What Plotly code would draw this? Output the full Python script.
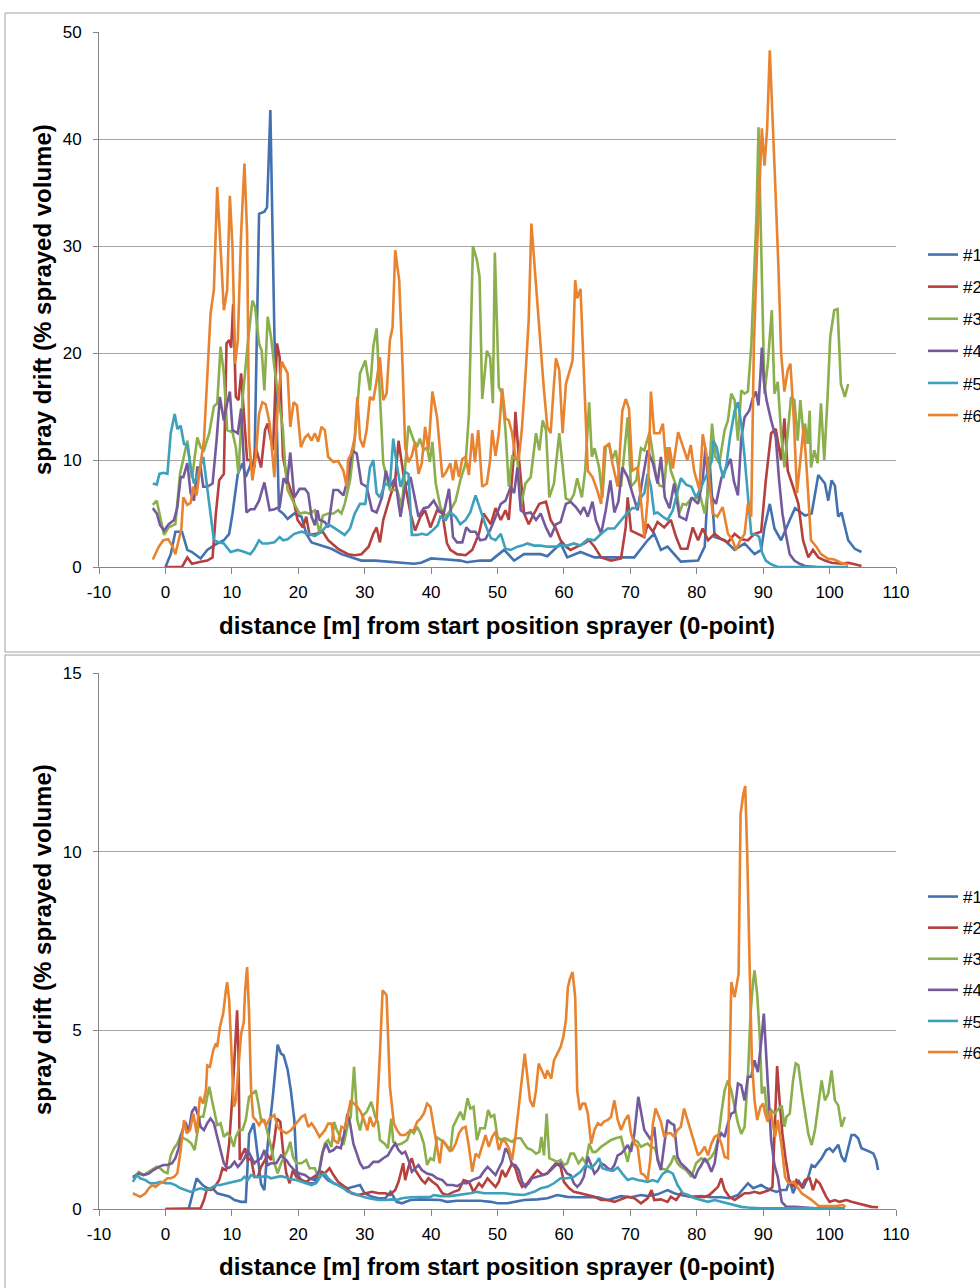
import plotly.graph_objects as go

names = ["#1", "#2", "#3", "#4", "#5", "#6"]
colors = ["#4472B0", "#B5403D", "#8BAF4C", "#745A9C", "#3DA1BE", "#E8832F"]

x_ticks = [-10, 0, 10, 20, 30, 40, 50, 60, 70, 80, 90, 100, 110]
x_title = "distance [m] from start position sprayer (0-point)"
y_title = "spray drift (% sprayed volume)"

# ---------------- top panel: (distance, drift) ----------------
top1 = [(0,0),(0.8,1.2),(1.5,3.3),(2.5,3.3),(3.3,1.6),(4,1.4),(5.3,0.8),(6.3,1.6),(7.8,2.2),(8.8,2.5),(9.6,3.1),(10.1,5.0),(10.9,8.7),(11.6,9.7),(12.1,8.4),(12.9,9.7),(13.4,9.3),(14.1,33.0),(14.9,33.2),(15.3,33.6),(15.8,42.7),(16.4,22),(17.1,5.3),(17.7,5.0),(18.4,4.5),(19.4,5.0),(20.5,4.7),(21.2,3.1),(22,2.3),(23.5,2.0),(25,1.7),(26.5,1.2),(28,0.9),(29.5,0.6),(31.6,0.6),(33.6,0.5),(35.6,0.4),(37.4,0.3),(38.5,0.4),(40,0.8),(42.4,0.7),(44.4,0.6),(45.4,0.45),(47.4,0.6),(49,0.6),(51,1.6),(52.5,0.6),(54,1.2),(56.5,1.2),(57.5,1.0),(59.5,2.2),(60.5,0.9),(62.5,1.4),(64.6,0.9),(67.6,0.9),(70.6,0.9),(72.6,2.5),(73.6,3.1),(74.6,1.6),(75.6,1.9),(77.6,0.5),(80.2,0.6),(81.2,1.9),(81.9,10.3),(82.7,2.8),(84.2,2.5),(85.7,1.6),(87.2,2.2),(88.7,1.2),(89.7,1.6),(90.2,3.7),(91,5.9),(91.7,3.6),(92.7,2.5),(94,4.4),(94.8,5.5),(96.3,4.8),(97.3,5.0),(98.3,8.6),(99.3,7.8),(99.8,6.2),(100.3,8.1),(100.8,7.6),(101.3,4.7),(101.8,5.1),(102.8,2.5),(103.8,1.7),(104.8,1.4)]
top2 = [(0,0),(2.5,0),(3.3,0.9),(4,0.3),(5.3,0.5),(6.3,0.6),(7.1,0.9),(7.6,5),(8.1,8.1),(8.8,8.7),(9.2,20.9),(9.6,21.2),(9.9,20.5),(10.2,24.6),(10.6,15.9),(11,15.6),(11.4,18.1),(11.8,14.3),(12.3,10.0),(12.8,10.0),(13.1,9.0),(13.6,11.2),(14.4,9.3),(15,12.8),(15.4,13.4),(16.2,10.9),(16.8,20.9),(17.2,19.6),(17.7,10.3),(18.4,8.1),(19.2,6.5),(19.9,4.4),(20.7,3.7),(21.2,4.7),(21.7,3.0),(22.7,3.1),(23.7,3.3),(24.5,2.5),(26,1.7),(27.5,1.2),(28.5,1.1),(29.5,1.2),(30.6,1.9),(31.3,3.1),(31.8,3.7),(32.3,2.3),(32.8,4.4),(33.8,6.5),(34.6,8.1),(35.1,11.8),(35.9,8.4),(36.9,5.0),(37.6,3.4),(38.4,4.7),(39.1,5.3),(39.9,3.7),(40.9,5.3),(41.7,5.0),(42.4,2.2),(42.9,1.6),(43.9,1.2),(45.2,1.1),(46.2,1.6),(47.2,3.1),(47.9,5.0),(49,4.0),(49.7,5.5),(50.5,4.4),(51.2,5.3),(51.7,4.4),(52.4,10.0),(52.7,14.5),(53.2,10.3),(54,5.0),(54.7,4.0),(55.5,5.0),(56.3,5.9),(57.3,6.1),(58,4.4),(58.8,3.6),(59.5,2.5),(60.3,1.9),(61,1.6),(62,1.9),(63.1,2.2),(63.8,2.5),(64.6,1.9),(65.6,0.9),(67.1,0.6),(68.6,0.8),(69.3,3.7),(69.6,6.5),(70.1,3.4),(71.1,3.1),(72.1,2.8),(72.6,4.0),(73.4,3.3),(74.1,4.2),(75.1,3.7),(76.1,4.4),(76.9,2.8),(77.6,1.7),(78.6,1.7),(79.4,3.7),(80.2,2.5),(80.9,3.6),(81.7,2.5),(82.7,3.1),(83.7,2.6),(84.7,2.3),(85.7,3.1),(86.7,2.6),(87.7,2.5),(88.7,3.1),(89.7,3.3),(90.4,8.1),(91.2,12.5),(91.9,12.9),(92.7,10.0),(93.2,13.9),(93.7,9.0),(94.5,7.5),(95.3,5.9),(96,2.5),(96.8,0.9),(97.5,1.6),(98.3,0.9),(99.3,0.6),(100.3,0.4),(101.8,0.3),(102.8,0.4),(103.8,0.25),(104.8,0.1)]
top3 = [(-1.9,5.8),(-1.3,6.2),(-0.8,4.7),(-0.2,3.0),(0.5,3.7),(1.5,4.0),(2.2,8.7),(3.3,11.8),(4,8.3),(4.8,12.1),(5.3,11.2),(5.8,10.9),(6.6,12.5),(7.3,15),(7.8,15.3),(8.3,20.6),(8.8,18.1),(9.3,12.8),(10.1,12.6),(10.6,11.2),(11,8.7),(11.6,15.6),(12.4,20.9),(13.1,24.9),(13.5,24.3),(14.1,20.9),(14.5,20.2),(14.9,16.5),(15.4,23.4),(15.9,21.5),(16.4,18.7),(16.9,16.5),(17.7,12.8),(18,9.7),(18.4,7.2),(19.4,5.9),(20.2,5.0),(21,5.1),(21.7,5.0),(22.5,5.3),(23.2,3.1),(23.7,4.8),(24.5,5.0),(25.3,5.0),(26,5.3),(26.5,5.0),(27,5.9),(27.8,8.1),(28.5,11.8),(29.3,18.1),(30.1,19.3),(30.8,16.5),(31.3,20.6),(31.8,22.3),(32.3,15.9),(32.8,9.7),(33.8,7.2),(34.9,7.2),(35.6,5.6),(36.6,13.2),(37.4,11.8),(37.9,11.2),(38.3,12.0),(38.9,10.9),(39.4,11.2),(39.8,9.8),(40.2,11.7),(40.7,7.8),(41.4,5.6),(42.2,4.7),(42.9,5.3),(43.7,6.2),(44.4,8.1),(45.2,9.7),(45.7,14.3),(46.3,30.0),(46.9,28.7),(47.3,27.1),(47.7,15.7),(48.4,20.2),(48.9,19.6),(49.3,15.3),(49.6,29.4),(50.2,16.8),(50.7,16.2),(51.2,12.8),(51.7,7.5),(52.2,10.3),(53,10.0),(53.5,5.6),(54.2,7.8),(55,8.4),(55.8,12.5),(56.3,10.9),(56.8,13.7),(57.3,12.8),(57.8,6.5),(58.5,7.8),(59.3,12.5),(59.8,9.3),(60.3,6.4),(61,6.2),(61.5,6.8),(62,8.3),(62.7,6.5),(63.2,9.0),(63.8,15.4),(64.2,10.3),(64.6,11.1),(65.3,9.3),(65.8,6.5),(66.3,11.2),(66.8,11.5),(67.3,10.1),(67.8,10.9),(68.6,7.5),(69.6,14.0),(70.1,7.5),(70.9,8.1),(71.6,11.1),(72.1,10.9),(72.9,12.6),(73.4,10.3),(73.9,8.4),(74.4,7.6),(75.1,7.5),(75.6,11.2),(76.1,9.0),(76.9,7.6),(77.4,5.1),(77.9,5.9),(78.4,5.8),(79.2,6.4),(79.9,6.4),(80.5,6.7),(81.2,5.0),(81.7,7.2),(82.3,13.4),(82.8,10.3),(83.4,9.7),(84.2,12.8),(84.7,13.7),(85.2,16.2),(85.7,15.6),(86.2,11.8),(86.7,16.5),(87.2,16.2),(87.7,16.4),(88.2,20.6),(88.6,27.1),(89,33.0),(89.3,41.1),(89.6,31.8),(89.9,24.0),(90.2,16.2),(90.7,19.0),(91.3,24.0),(91.7,16.2),(92.2,17.3),(92.7,12.5),(93.2,9.3),(93.7,12.5),(94.2,15.9),(94.7,15.6),(95.2,11.8),(95.6,15.6),(96,12.8),(96.3,13.4),(96.7,11.5),(97,14.6),(97.2,9.3),(97.7,10.9),(98.2,9.7),(98.7,15.3),(99.2,10.0),(99.7,15.9),(100.1,21.5),(100.7,24.0),(101.2,24.1),(101.7,17.1),(102.3,15.9),(102.8,17.1)]
top4 = [(-1.9,5.5),(-1.3,5.0),(-0.8,3.9),(-0.2,3.4),(0.5,4.0),(1.3,4.4),(1.8,5.6),(2.3,8.4),(2.7,8.4),(3.3,9.7),(3.8,6.9),(4.3,6.2),(4.8,9.3),(5.3,9.3),(5.7,7.5),(6.3,7.5),(7.1,7.8),(7.7,11.8),(8.2,15.9),(8.8,13.7),(9.3,15.3),(9.7,16.4),(10.1,12.8),(10.9,12.5),(11.4,14.8),(11.8,10.0),(12.2,5.1),(12.8,5.4),(13.4,5.4),(14.1,6.2),(14.9,7.9),(15.7,5.3),(16.4,5.4),(17.2,5.6),(17.8,8.3),(18.3,7.8),(18.8,10.7),(19.4,6.5),(20.2,7.3),(21,7.3),(21.5,6.9),(22,4.7),(22.5,3.9),(22.9,5.3),(23.2,4.4),(24,4.2),(24.5,3.7),(25.3,7.2),(26,7.2),(26.8,6.7),(27.5,8.3),(28.1,10.9),(28.8,10.6),(29.5,7.8),(30.3,7.5),(31.1,5.3),(31.8,5.1),(32.6,6.5),(33.2,9.0),(33.8,7.5),(34.6,8.3),(35.1,5.9),(35.4,4.7),(36.1,7.5),(36.9,8.4),(37.4,6.9),(38.1,4.7),(38.9,5.5),(39.6,5.6),(40.4,6.2),(41.2,5.3),(41.9,5.0),(42.7,7.3),(43.3,2.8),(43.9,2.3),(44.7,2.3),(45.3,3.7),(45.9,3.3),(46.7,3.3),(47.4,2.5),(48.2,2.6),(49,3.6),(49.7,4.7),(50.5,5.9),(51.2,6.2),(52,7.5),(52.5,6.9),(53,9.3),(53.5,5.3),(54.2,5.0),(55,5.1),(55.8,4.4),(56.5,5.0),(57.3,3.7),(58,2.8),(58.8,4.0),(59.5,4.2),(60.3,5.9),(61,6.1),(61.8,5.6),(62.5,5.0),(63,5.6),(63.6,4.7),(64.3,6.1),(64.8,4.4),(65.6,3.1),(66.3,5.3),(67,8.1),(67.6,5.1),(68.2,6.1),(68.8,9.3),(69.6,8.4),(70.3,6.9),(71.1,5.3),(71.8,8.1),(72.6,10.9),(73.4,9.7),(74.1,7.8),(74.6,10.3),(75.2,6.5),(75.9,5.5),(76.6,7.8),(77.4,4.7),(78.4,4.4),(79.2,6.5),(80.2,5.9),(80.9,8.1),(81.3,11.1),(81.7,8.1),(82.3,6.5),(82.9,5.9),(83.7,8.3),(84.4,9.2),(85.1,10.1),(85.6,8.0),(86.2,6.7),(86.7,12.0),(87.2,14.0),(87.9,14.6),(88.4,15.7),(88.9,16.4),(89.3,15.1),(89.6,18.1),(89.8,20.5),(90.1,17.4),(90.5,15.6),(91.2,13.7),(91.9,12.1),(92.4,8.1),(92.9,5.0),(93.4,3.1),(94,1.2),(94.7,0.6),(95.5,0.3),(96.3,0.1),(98,0)]
top5 = [(-1.9,7.8),(-1.3,7.7),(-0.9,8.7),(-0.3,8.8),(0.3,8.7),(0.8,12.5),(1.4,14.3),(1.8,12.9),(2.3,13.2),(2.8,11.5),(3.3,11.4),(3.8,9.3),(4.3,7.8),(4.9,8.7),(5.7,10.3),(6.6,6.2),(7.3,2.5),(8.1,2.3),(8.8,2.2),(9.8,1.4),(10.9,1.6),(11.9,1.4),(12.8,1.2),(13.4,1.7),(14.1,2.5),(14.6,2.2),(15.4,2.2),(16.4,2.3),(17.2,2.8),(17.7,2.5),(18.4,2.6),(19.4,3.1),(20.5,3.3),(21.5,3.1),(22.5,2.9),(23.5,3.3),(24.5,4.0),(25.3,3.7),(26,3.4),(27,3.0),(27.8,3.6),(28.5,5.0),(29.3,5.9),(30.1,5.9),(30.8,9.3),(31.3,10.0),(31.8,6.9),(32.3,6.5),(33.1,7.8),(33.8,7.6),(34.3,12.0),(34.8,9.7),(35.4,7.5),(36.1,8.9),(36.6,8.7),(37.1,3.0),(37.9,3.0),(38.6,3.1),(39.4,3.0),(40.2,3.4),(41,3.9),(41.4,4.7),(42.2,4.4),(42.9,5.1),(43.7,4.7),(44.4,4.0),(45.2,4.4),(45.9,5.1),(46.7,6.7),(47.4,5.3),(48.2,3.9),(49,2.7),(49.7,2.5),(50.5,3.1),(51.2,1.7),(52,1.6),(53,1.9),(53.7,2.0),(54.5,2.2),(55.5,2.0),(56.5,2.0),(57.5,1.9),(58.5,1.9),(59.5,2.0),(60.5,2.0),(61.5,2.2),(62.5,2.0),(63.6,2.6),(64.6,2.5),(65.6,3.1),(66.6,3.6),(67.6,3.6),(68.6,4.4),(69.6,5.1),(70.3,5.5),(70.9,5.5),(71.6,6.5),(72.1,6.9),(72.6,8.7),(73.1,7.5),(73.6,5.0),(74.1,5.1),(74.9,4.7),(75.6,4.4),(76.4,5.3),(77.2,7.2),(77.6,8.3),(78.4,7.7),(79.2,7.5),(79.9,6.5),(80.7,7.5),(81.5,8.6),(82.3,10.0),(82.5,11.8),(83,11.2),(83.5,9.5),(84,8.3),(84.5,9.7),(85,12.1),(85.7,14.6),(86.2,15.4),(86.7,13.4),(87.2,10.3),(87.7,6.5),(88.2,3.1),(89,3.0),(89.4,2.8),(89.8,1.4),(90.4,0.6),(91.2,0.25),(92.2,0),(102.8,0)]
top6 = [(-1.9,0.7),(-1,1.9),(-0.3,2.5),(0.4,2.6),(1,2.0),(1.5,1.2),(2,2.5),(2.4,3.6),(2.7,6.5),(3.3,5.8),(3.8,6.0),(4.2,7.5),(4.7,6.7),(5.2,9.3),(5.8,11.8),(6.3,17.4),(6.8,23.7),(7.3,25.9),(7.8,35.5),(8.3,29.9),(8.8,24.0),(9.3,25.9),(9.7,34.7),(10.1,29.9),(10.5,19.0),(10.9,21.2),(11.4,31.2),(11.9,37.7),(12.3,31.2),(12.6,11.8),(13.1,8.1),(13.6,10.3),(14.1,14.3),(14.6,15.4),(15.1,15.2),(15.7,13.4),(16.4,8.4),(16.9,15.0),(17.5,19.2),(18.4,18.1),(18.8,13.1),(19.3,15.4),(19.8,15.1),(20.4,11.2),(21,12.1),(21.5,12.4),(22,11.8),(22.5,12.5),(23,11.7),(23.5,13.1),(24,12.8),(24.5,10.3),(25.3,9.8),(26,9.9),(26.8,9.0),(27.3,7.5),(27.5,10.0),(28,10.6),(28.5,12.1),(28.9,15.9),(29.3,12.0),(29.8,11.2),(30.3,12.8),(30.8,15.9),(31.3,15.6),(31.8,17.4),(32.3,19.6),(32.8,15.6),(33.3,16.2),(33.8,21.2),(34.2,22.4),(34.6,29.6),(35.2,26.8),(35.7,19.0),(36.1,11.2),(36.6,9.8),(37.1,10.4),(37.6,11.7),(38.1,8.7),(38.6,9.7),(39.1,13.1),(39.6,10.9),(40.2,16.4),(40.9,14.0),(41.7,8.4),(42.2,8.8),(42.9,9.7),(43.3,8.1),(43.7,10.0),(44.2,8.4),(44.7,10.1),(45.2,10.3),(45.7,8.6),(46.2,12.5),(46.6,9.8),(47.1,12.8),(47.7,7.5),(48.4,7.8),(48.9,10.0),(49.2,12.8),(49.7,10.4),(50.2,12.5),(50.7,16.7),(51.2,13.9),(51.7,13.7),(52.2,12.5),(52.7,10.3),(53.2,10.1),(53.7,13.1),(54.2,17.8),(54.7,23.1),(55.1,32.1),(55.6,28.0),(56,24.3),(56.5,19.9),(57,16.5),(57.5,13.1),(58,12.5),(58.5,17.1),(58.8,19.5),(59.3,18.4),(59.8,12.5),(60.3,17.1),(60.8,18.1),(61.3,19.3),(61.7,26.8),(62,25.1),(62.5,26.0),(63.1,16.8),(63.6,9.0),(64.3,8.4),(65,7.2),(65.6,5.9),(66.1,11.2),(66.8,11.5),(67.3,9.7),(68.1,7.5),(68.8,14.6),(69.3,15.7),(69.8,14.8),(70.3,9.0),(71.1,9.3),(71.6,6.2),(72.1,2.8),(72.6,6.2),(73.1,16.4),(73.6,12.5),(74.4,12.5),(74.9,13.4),(75.4,9.5),(75.9,11.2),(76.4,9.2),(77.2,12.6),(77.9,11.2),(78.6,10.0),(79.1,11.4),(79.6,9.0),(80.4,7.2),(80.9,12.4),(81.4,10.8),(81.9,8.1),(82.4,5.0),(83.1,4.7),(83.9,5.6),(84.7,3.1),(85.4,2.5),(85.9,1.6),(86.4,2.3),(87.2,3.1),(87.7,5.9),(88.2,4.7),(88.6,20.6),(89.1,30.0),(89.5,35.5),(89.8,41.0),(90.2,37.5),(90.6,41.0),(91.0,48.3),(91.3,44.0),(91.8,36.0),(92.3,28.0),(92.7,20.0),(93.2,16.4),(93.7,18.4),(94.1,19.0),(94.6,14.0),(95.1,6.9),(95.6,9.7),(96.1,13.1),(96.6,8.7),(97.2,2.5),(98,1.9),(98.7,1.2),(99.7,0.8),(100.7,0.7),(101.7,0.4),(102.8,0.2)]

# ---------------- bottom panel: (distance, drift) ----------------
bot1 = [(0,0),(3.5,0),(4.7,0.86),(5.6,0.67),(6.3,0.58),(7.1,0.58),(7.8,0.44),(8.8,0.4),(9.6,0.35),(10.4,0.25),(11.4,0.2),(12.1,0.2),(12.6,2.1),(13.3,2.4),(13.9,1.55),(14.4,0.7),(14.9,0.53),(15.4,1.8),(16.2,3.2),(16.9,4.6),(17.4,4.35),(17.8,4.3),(18.4,3.9),(18.9,3.3),(19.4,2.5),(19.8,1.0),(20.5,0.8),(21.5,0.72),(22.5,0.72),(23.5,1.0),(24.5,0.8),(25.5,0.72),(26.5,0.62),(27.5,0.58),(28.5,0.62),(29.3,0.67),(30,0.44),(31.1,0.34),(32.1,0.3),(33.1,0.3),(33.9,0.48),(34.8,0.2),(35.6,0.16),(36.9,0.25),(38.4,0.27),(39.9,0.25),(41.4,0.25),(42.4,0.2),(43.9,0.23),(45.4,0.23),(47.4,0.23),(49,0.2),(50,0.16),(51.5,0.16),(52.5,0.2),(54,0.25),(56,0.27),(57.5,0.3),(59,0.39),(60.5,0.34),(62,0.33),(63.6,0.34),(65.1,0.33),(66.6,0.25),(67.6,0.3),(68.6,0.36),(70.1,0.33),(71.6,0.39),(72.6,0.36),(74.1,0.41),(75.6,0.53),(76.6,0.44),(77.6,0.39),(79.2,0.34),(80.7,0.36),(82.2,0.33),(83.7,0.33),(84.9,0.3),(86.2,0.39),(87.2,0.62),(87.7,0.72),(88.5,0.58),(89.2,0.62),(89.7,0.67),(90.5,0.58),(91.2,0.53),(92,0.48),(92.7,0.53),(93.5,0.53),(94,0.81),(94.5,0.44),(95.3,0.81),(96,0.58),(96.8,0.9),(97.3,1.23),(97.8,1.18),(98.8,1.42),(99.5,1.65),(100,1.7),(100.5,1.6),(101.3,1.8),(101.8,1.47),(102.3,1.32),(102.8,1.7),(103.3,2.07),(103.8,2.07),(104.3,1.98),(104.8,1.7),(105.6,1.65),(106.1,1.6),(106.6,1.55),(107,1.37),(107.3,1.09)]
bot2 = [(0,0),(5.3,0.02),(5.8,0.25),(6.3,0.58),(6.8,0.53),(7.3,0.58),(8.1,0.81),(8.6,1.14),(9.1,1.09),(9.6,1.83),(10.1,3.2),(10.5,4.6),(10.8,5.56),(11,4.35),(11.2,1.37),(11.6,1.55),(12,1.7),(12.4,1.37),(12.9,1.42),(13.4,0.9),(13.9,0.9),(14.4,1.18),(15,1.37),(15.4,1.5),(15.9,1.37),(16.4,1.93),(16.8,2.53),(17.3,2.44),(17.7,1.65),(18.2,1.0),(18.7,0.72),(19.2,1.09),(19.7,0.9),(20.5,0.81),(21.2,0.76),(22,0.86),(22.7,0.95),(23.5,1.04),(24,1.0),(24.7,1.14),(25.3,0.95),(26,0.76),(27,0.62),(28,0.44),(29,0.39),(30.1,0.44),(31.1,0.48),(32.1,0.44),(33.1,0.44),(33.8,0.39),(34.6,0.53),(35.1,0.76),(35.8,1.28),(36.1,0.81),(36.6,1.18),(37.1,1.42),(37.6,1.09),(38.1,0.95),(38.6,0.81),(39.1,0.72),(39.6,0.86),(40.2,0.76),(40.9,0.67),(41.7,0.44),(42.4,0.39),(43.4,0.48),(44.2,0.53),(44.9,0.81),(45.7,0.76),(46.4,0.48),(47.2,0.72),(47.7,0.62),(48.5,0.86),(49.2,0.72),(49.7,0.62),(50.2,0.76),(50.7,1.09),(51.2,0.9),(51.7,1.09),(52.2,1.28),(52.7,1.14),(53.2,0.81),(53.7,0.62),(54.5,0.72),(55.2,0.9),(56,1.09),(56.8,0.95),(57.5,1.0),(58.3,1.18),(58.8,1.28),(59.5,1.18),(60,0.76),(60.8,0.58),(61.5,0.48),(62.5,0.44),(63.6,0.39),(64.6,0.34),(65.6,0.25),(66.6,0.25),(67.6,0.2),(68.6,0.27),(69.6,0.34),(70.6,0.3),(71.6,0.16),(72.6,0.3),(73.2,0.53),(73.6,0.25),(74.6,0.27),(75.6,0.2),(76.1,0.34),(76.9,0.25),(77.6,0.44),(78.4,0.39),(79.2,0.34),(80.2,0.34),(81.2,0.34),(81.9,0.39),(82.7,0.53),(83.2,0.62),(83.7,0.86),(84.2,0.53),(84.9,0.34),(85.7,0.25),(86.4,0.34),(87.2,0.44),(87.9,0.44),(88.7,0.48),(89.5,0.44),(90.1,0.48),(90.9,0.53),(91.4,0.62),(91.7,2.3),(92.1,4.0),(92.5,2.95),(92.9,2.1),(93.4,1.37),(93.9,0.81),(94.5,0.62),(95,0.81),(95.8,0.62),(96.3,0.81),(97,0.86),(97.5,0.53),(98,0.81),(98.5,0.72),(99,0.53),(99.5,0.34),(100,0.2),(100.8,0.25),(101.5,0.2),(102.5,0.25),(103.3,0.2),(104.3,0.16),(105.3,0.11),(106.3,0.06),(107.3,0.05)]
bot3 = [(-4.9,0.86),(-4,1.04),(-3.3,0.95),(-2.5,1.04),(-1.8,1.14),(-1.3,1.18),(-0.8,1.14),(-0.2,1.04),(0.3,1.0),(0.8,1.5),(1.3,1.7),(1.8,1.83),(2.3,2.07),(2.7,1.98),(3.3,1.93),(3.9,1.83),(4.4,1.65),(4.8,2.12),(5.2,2.58),(5.7,2.58),(6.1,2.95),(6.6,3.42),(6.9,3.14),(7.4,2.67),(7.8,2.35),(8.3,2.4),(8.8,2.02),(9.3,2.12),(9.8,2.02),(10.3,1.74),(10.6,2.02),(11.1,2.21),(11.6,2.21),(12.1,2.49),(12.6,3.14),(13.1,3.23),(13.6,3.32),(14,2.95),(14.4,2.49),(14.9,2.49),(15.4,2.12),(15.9,1.74),(16.4,1.28),(16.9,1.0),(17.4,1.28),(17.9,1.46),(18.4,1.65),(18.8,1.88),(19.2,1.46),(19.7,1.28),(20.5,1.28),(21.2,1.37),(21.7,1.14),(22.5,1.14),(23,0.9),(23.5,1.46),(24,1.83),(24.5,1.93),(25,1.74),(25.4,2.44),(25.8,2.21),(26.3,2.02),(26.8,1.79),(27.4,2.3),(27.9,2.58),(28.4,3.98),(28.9,2.49),(29.3,2.2),(29.8,2.63),(30.3,2.72),(31,3.0),(31.6,2.58),(32,2.44),(32.3,1.93),(33,1.83),(33.5,1.7),(34,2.53),(34.3,1.88),(34.9,1.79),(35.6,1.83),(36.4,1.93),(36.9,2.2),(37.4,2.12),(37.9,2.3),(38.4,2.12),(38.9,1.83),(39.4,1.23),(39.9,1.42),(40.4,1.37),(40.9,2.0),(41.4,1.93),(41.9,1.88),(42.4,1.74),(42.9,1.6),(43.3,2.3),(43.9,2.53),(44.4,2.72),(44.9,2.49),(45.5,3.1),(45.9,2.81),(46.4,2.86),(46.9,1.93),(47.4,2.26),(48.1,2.26),(48.6,2.77),(49,2.58),(49.5,2.63),(50,2.02),(50.5,1.93),(51.1,1.98),(51.7,1.93),(52.2,1.88),(52.7,1.98),(53.5,1.98),(54,1.83),(54.5,1.7),(55.2,1.65),(55.8,1.55),(56.3,1.6),(56.6,2.02),(57,1.5),(57.4,2.67),(57.8,1.42),(58.3,1.37),(59,1.32),(59.5,1.37),(60,1.23),(60.5,1.28),(61,1.55),(61.5,1.55),(62.2,1.28),(62.8,1.42),(63.3,1.28),(63.8,1.83),(64.3,1.6),(64.8,1.6),(65.6,1.74),(66.3,1.83),(67.1,1.93),(67.8,1.98),(68.6,2.02),(69.1,1.65),(69.6,1.32),(70.1,1.79),(70.6,1.93),(71.1,1.88),(71.6,1.74),(72.1,1.79),(72.6,1.83),(73.1,1.74),(73.7,1.7),(74.6,1.14),(75.4,1.09),(76.1,1.28),(76.6,1.5),(77.1,1.28),(77.6,1.18),(78.4,1.09),(79.2,0.9),(79.9,1.28),(80.7,1.42),(81.4,1.32),(82.2,1.46),(82.7,1.6),(83.2,1.93),(83.7,2.67),(84.2,3.32),(84.7,3.6),(85.2,3.32),(85.7,2.86),(86.2,2.4),(86.7,2.1),(87.2,2.3),(87.7,3.7),(88.1,5.47),(88.5,6.4),(88.7,6.68),(89.1,6.0),(89.5,4.8),(89.8,3.23),(90.2,3.42),(90.7,2.49),(91.2,2.77),(91.7,2.67),(92.2,2.77),(92.8,2.9),(93.2,2.3),(93.5,2.58),(94,2.67),(94.5,3.6),(94.9,4.07),(95.3,4.02),(95.8,3.32),(96.3,2.67),(96.8,2.1),(97.3,1.79),(97.8,2.21),(98.3,2.9),(98.8,3.6),(99.3,3.04),(99.8,3.23),(100.3,3.88),(100.8,3.04),(101.3,2.9),(101.8,2.3),(102.3,2.58)]
bot4 = [(-4.9,0.9),(-4,0.99),(-3.3,0.95),(-2.5,0.99),(-1.8,1.09),(-1,1.18),(-0.3,1.23),(0.3,1.23),(1,1.28),(1.5,1.42),(2,1.7),(2.5,2.16),(3,2.44),(3.5,2.16),(4,2.72),(4.5,2.86),(4.9,2.63),(5.3,2.3),(5.8,2.21),(6.3,2.4),(6.8,2.53),(7.3,2.4),(7.8,2.02),(8.3,1.65),(8.8,1.28),(9.3,1.14),(9.8,1.18),(10.4,1.32),(10.9,1.18),(11.4,1.28),(11.9,1.42),(12.4,1.65),(12.9,1.46),(13.4,1.28),(13.9,1.37),(14.4,1.42),(14.9,1.65),(15.4,1.23),(15.9,1.28),(16.7,1.28),(17.4,1.5),(18.2,1.37),(18.7,1.23),(19.4,1.09),(20.2,0.99),(21,0.95),(21.7,0.86),(22.5,0.81),(23.2,1.09),(23.7,1.6),(24.2,1.83),(24.7,1.6),(25.3,1.65),(25.8,1.74),(26.4,1.7),(26.9,2.1),(27.4,2.67),(27.8,2.4),(28.3,1.83),(28.8,1.55),(29.3,1.28),(29.8,1.14),(30.6,1.18),(31.3,1.32),(32.1,1.32),(32.8,1.42),(33.5,1.5),(34.1,1.7),(34.6,1.83),(35.1,1.65),(35.6,1.55),(36.1,1.6),(36.6,1.37),(37.1,1.04),(37.6,1.14),(38.1,1.23),(38.6,1.09),(39.4,0.99),(40.2,0.95),(40.9,0.86),(41.7,0.81),(42.4,0.67),(43.2,0.67),(43.9,0.64),(44.7,0.72),(45.4,0.72),(46.2,0.81),(46.9,0.86),(47.4,0.9),(47.9,1.04),(48.5,1.18),(49,1.09),(49.7,0.95),(50.2,1.14),(50.7,1.32),(51.2,1.7),(51.7,1.55),(52.2,1.23),(52.7,1.23),(53.2,1.09),(53.7,0.76),(54.2,0.62),(54.7,0.72),(55.2,0.86),(56,0.9),(56.8,0.95),(57.5,0.99),(58.3,1.14),(58.8,1.23),(59.5,1.28),(60,1.14),(60.5,0.99),(61,0.95),(61.5,0.72),(62,0.62),(62.5,0.72),(63,0.9),(63.6,1.46),(64.1,1.23),(64.6,0.99),(65.1,1.09),(65.6,1.28),(66.1,1.23),(66.6,1.14),(67.1,1.09),(67.6,1.23),(68.1,1.5),(68.6,1.55),(69.1,1.65),(69.6,1.79),(70.1,1.6),(70.6,2.1),(71.2,3.14),(71.6,2.67),(72.1,2.21),(72.6,2.07),(73.1,1.93),(73.6,2.3),(74.1,1.37),(74.6,1.09),(75.1,1.83),(75.6,2.49),(76.1,2.4),(76.6,2.35),(77.1,1.46),(77.6,1.28),(78.4,1.14),(79.2,0.99),(79.7,0.86),(80.2,1.09),(80.7,1.23),(81.2,1.42),(81.7,1.28),(82.2,1.04),(82.7,1.28),(83.2,1.93),(83.7,2.12),(84.2,2.02),(84.7,2.4),(85.2,2.67),(85.7,2.72),(86.2,3.51),(86.7,3.46),(87.2,3.04),(87.7,3.7),(88.2,3.7),(88.7,4.16),(89.2,3.83),(89.7,4.67),(90.1,5.47),(90.7,3.51),(91.2,1.93),(91.7,1.23),(92.2,0.9),(92.8,0.2),(93.5,0.06),(94.8,0.06),(96.3,0.04),(97.8,0.02)]
bot5 = [(-4.9,0.76),(-4.3,0.95),(-3.8,0.86),(-3,0.81),(-2.3,0.72),(-1.5,0.72),(-0.8,0.76),(0,0.72),(0.8,0.72),(1.5,0.67),(2.3,0.58),(3,0.53),(3.8,0.48),(4.5,0.53),(5.3,0.58),(6.1,0.53),(6.8,0.58),(7.6,0.67),(8.3,0.67),(9.3,0.72),(10.4,0.76),(11.4,0.81),(11.9,0.9),(12.4,0.81),(12.9,0.95),(13.6,0.9),(14.4,0.9),(15.2,0.92),(15.9,0.86),(16.7,0.9),(17.4,0.92),(18.2,0.88),(18.9,0.83),(19.7,0.81),(20.5,0.76),(21.2,0.72),(22,0.67),(22.7,0.72),(23.5,0.95),(24,0.99),(24.5,0.86),(25.3,0.72),(26,0.67),(26.8,0.58),(27.5,0.48),(28.3,0.44),(29,0.39),(29.8,0.34),(30.6,0.3),(31.3,0.27),(32.1,0.25),(33.1,0.25),(34.1,0.27),(34.8,0.25),(35.6,0.3),(36.9,0.33),(38.4,0.33),(39.9,0.34),(40.4,0.39),(41.4,0.36),(42.9,0.36),(44.4,0.39),(45.9,0.44),(46.9,0.48),(48,0.44),(49.5,0.44),(51,0.44),(52.5,0.41),(54,0.39),(55.5,0.48),(56.5,0.58),(57.5,0.62),(58.5,0.72),(59.5,0.86),(60.5,0.86),(61.5,0.9),(62.5,1.04),(63.3,1.23),(64.1,1.14),(64.8,1.28),(65.3,1.42),(65.8,1.14),(66.6,1.09),(67.4,1.07),(68.1,1.16),(68.8,0.99),(69.6,0.81),(70.3,0.86),(71.1,0.81),(71.8,0.79),(72.6,0.76),(73.4,0.81),(74.1,0.76),(74.9,0.99),(75.6,1.07),(76.4,0.99),(77.1,0.67),(77.9,0.44),(78.7,0.39),(79.7,0.3),(80.7,0.25),(81.7,0.2),(82.7,0.25),(83.7,0.2),(84.7,0.16),(85.7,0.11),(86.7,0.06),(87.7,0.04),(89.7,0.02),(92.7,0.02),(97.8,0.02),(102.3,0.02)]
bot6 = [(-4.9,0.44),(-4.3,0.39),(-3.8,0.34),(-3,0.44),(-2.5,0.58),(-2,0.67),(-1.5,0.62),(-0.8,0.72),(-0.3,0.76),(0.3,0.86),(0.8,0.86),(1.3,0.9),(1.8,1.0),(2.3,1.65),(2.8,2.49),(3.2,2.12),(3.7,2.21),(4.2,2.67),(4.7,2.12),(5.2,3.14),(5.7,2.95),(6.1,3.32),(6.3,4.02),(6.7,3.98),(7.2,4.44),(7.6,4.63),(7.8,4.53),(8.2,5.09),(8.7,5.47),(9.1,6.12),(9.3,6.35),(9.6,5.84),(10,4.35),(10.3,2.86),(10.6,3.04),(11,4.07),(11.4,4.9),(11.8,5.23),(12,6.12),(12.3,6.77),(12.6,5.47),(12.9,3.32),(13.2,2.58),(13.6,2.49),(14.1,2.35),(14.6,2.49),(15.2,2.35),(15.7,2.53),(16.4,2.63),(16.9,2.3),(17.4,2.2),(18.2,2.12),(18.9,2.2),(19.7,2.4),(20.5,2.58),(21,2.63),(21.5,2.3),(22,2.4),(22.5,2.26),(23.2,2.02),(24,2.2),(24.5,2.39),(25,2.39),(25.4,1.93),(26,1.83),(26.5,2.3),(27,2.26),(27.4,2.58),(27.9,3.04),(28.4,2.95),(28.9,2.86),(29.4,2.72),(29.9,2.49),(30.4,2.2),(30.8,2.58),(31.3,2.3),(31.8,2.49),(32.3,4.35),(32.7,6.12),(33.3,5.98),(33.8,3.42),(34.4,2.39),(34.9,2.2),(35.4,2.07),(36.1,2.07),(36.9,2.2),(37.4,2.2),(37.9,2.44),(38.4,2.53),(38.9,2.67),(39.4,2.95),(39.9,2.86),(40.4,2.3),(40.8,1.74),(41.3,1.28),(41.7,1.93),(42.2,1.83),(42.7,1.7),(43.2,1.65),(43.7,1.83),(44.2,2.12),(44.7,2.26),(45.2,2.3),(45.7,1.74),(46.2,1.04),(46.7,1.55),(47.2,1.46),(47.7,1.74),(48.2,2.07),(48.7,1.74),(49.2,2.02),(49.7,2.16),(50.2,1.65),(50.7,1.93),(51.2,1.88),(51.7,1.7),(52.2,1.37),(52.7,2.02),(53.2,2.86),(53.7,3.6),(54.1,4.35),(54.5,3.7),(54.9,3.04),(55.4,2.86),(55.8,3.32),(56.2,4.07),(56.7,3.88),(57.2,3.65),(57.5,3.88),(58.1,3.65),(58.5,4.16),(59,4.35),(59.5,4.53),(59.9,4.81),(60.3,5.28),(60.6,6.21),(60.9,6.44),(61.3,6.63),(61.7,5.93),(62,3.32),(62.4,2.77),(62.8,2.95),(63.2,2.95),(63.6,2.67),(64.1,1.83),(64.6,2.21),(65.1,2.4),(65.6,2.35),(66,2.44),(66.6,2.49),(67.1,2.58),(67.6,3.04),(68.1,2.49),(68.6,2.21),(69.2,2.49),(69.7,2.63),(70.1,2.12),(70.6,1.83),(71.1,1.74),(71.6,1.0),(72.1,0.95),(72.6,0.81),(73,1.37),(73.4,2.39),(73.8,2.81),(74.2,2.63),(74.6,2.44),(75.1,2.02),(75.6,2.12),(76.1,2.12),(76.6,2.02),(77.1,2.21),(77.6,2.3),(78.1,2.81),(78.6,2.49),(79.2,2.12),(79.7,1.79),(80.2,1.5),(80.7,1.6),(81.2,1.74),(81.7,1.5),(82.2,1.83),(82.7,2.02),(83.2,2.07),(83.7,1.83),(84.2,1.46),(84.7,1.42),(85.2,6.35),(85.7,5.93),(86.3,6.58),(86.6,11.05),(87,11.6),(87.3,11.84),(87.6,9.93),(88,6.49),(88.3,4.16),(88.7,3.04),(89.1,2.49),(89.6,2.86),(90,2.95),(90.3,2.67),(90.7,2.44),(91.1,2.77),(91.5,2.3),(91.8,2.02),(92.2,2.49),(92.8,1.74),(93.3,0.9),(93.8,0.72),(94.6,0.76),(95.1,0.62),(95.8,0.44),(96.6,0.34),(97.3,0.25),(98.3,0.09),(99.3,0.08),(100.3,0.08),(101.3,0.09),(102,0.11),(102.4,0.06)]

top_series = [top1, top2, top3, top4, top5, top6]
bot_series = [bot1, bot2, bot3, bot4, bot5, bot6]

W, H = 980, 1288
def px_x(p):
    return p / W
def px_y(p):
    return 1 - p / H

fig = go.Figure()
for i, s in enumerate(top_series):
    xs, ys = zip(*s)
    fig.add_trace(go.Scatter(x=list(xs), y=list(ys), mode="lines", name=names[i],
                             line=dict(color=colors[i], width=2.6),
                             xaxis="x", yaxis="y", legend="legend",
                             legendgroup="t" + str(i)))
for i, s in enumerate(bot_series):
    xs, ys = zip(*s)
    fig.add_trace(go.Scatter(x=list(xs), y=list(ys), mode="lines", name=names[i],
                             line=dict(color=colors[i], width=2.6),
                             xaxis="x2", yaxis="y2", legend="legend2",
                             legendgroup="b" + str(i)))

tick_font = dict(family="Liberation Sans, Arial, sans-serif", size=17, color="#000000")
title_font = dict(family="Liberation Sans Narrow, Liberation Sans, Arial, sans-serif", size=24, color="#000000")
legend_font = dict(family="Liberation Sans, Arial, sans-serif", size=17, color="#000000")
axis_line = "#868686"
grid_col = "#A6A6A6"

xcommon = dict(range=[-10, 110], tickmode="array", tickvals=x_ticks, ticktext=[str(v) for v in x_ticks],
               showgrid=False, zeroline=False, showline=True, linecolor=axis_line, linewidth=1,
               ticks="outside", ticklen=6, tickcolor=axis_line, tickfont=tick_font,
               ticklabelstandoff=4, domain=[px_x(99), px_x(896)])
ycommon = dict(showgrid=True, gridcolor=grid_col, gridwidth=1, zeroline=False, showline=True,
               linecolor=axis_line, linewidth=1, ticks="outside", ticklen=5, tickcolor=axis_line,
               tickfont=tick_font, ticklabelstandoff=8)

fig.update_layout(
    width=W, height=H,
    margin=dict(l=0, r=0, t=0, b=0, autoexpand=False),
    paper_bgcolor="white", plot_bgcolor="white",
    xaxis=dict(**xcommon, anchor="y"),
    yaxis=dict(**ycommon, range=[0, 50], dtick=10, domain=[px_y(567), px_y(32)], anchor="x"),
    xaxis2=dict(**xcommon, anchor="y2"),
    yaxis2=dict(**ycommon, range=[0, 15], dtick=5, domain=[px_y(1209), px_y(673)], anchor="x2"),
    legend=dict(x=px_x(923), xanchor="left", y=px_y(237), yanchor="top",
                font=legend_font, bgcolor="rgba(0,0,0,0)", tracegroupgap=7, traceorder="grouped"),
    legend2=dict(x=px_x(923), xanchor="left", y=px_y(879), yanchor="top",
                 font=legend_font, bgcolor="rgba(0,0,0,0)", tracegroupgap=6, traceorder="grouped"),
    showlegend=True,
)

shapes = [
    dict(type="rect", xref="paper", yref="paper", x0=px_x(5), x1=1.05, y0=px_y(652), y1=px_y(13),
         line=dict(color="#A0A0A0", width=1), fillcolor="rgba(0,0,0,0)", layer="below"),
    dict(type="rect", xref="paper", yref="paper", x0=px_x(5), x1=1.05, y0=-0.05, y1=px_y(655),
         line=dict(color="#A0A0A0", width=1), fillcolor="rgba(0,0,0,0)", layer="below"),
]
fig.update_layout(shapes=shapes)

annotations = [
    dict(text="<b>" + x_title + "</b>", xref="paper", yref="paper", x=px_x(497), y=px_y(625),
         xanchor="center", yanchor="middle", showarrow=False, font=title_font),
    dict(text="<b>" + y_title + "</b>", xref="paper", yref="paper", x=px_x(42), y=px_y(300),
         xanchor="center", yanchor="middle", showarrow=False, textangle=-90, font=title_font),
    dict(text="<b>" + x_title + "</b>", xref="paper", yref="paper", x=px_x(497), y=px_y(1266),
         xanchor="center", yanchor="middle", showarrow=False, font=title_font),
    dict(text="<b>" + y_title + "</b>", xref="paper", yref="paper", x=px_x(42), y=px_y(940),
         xanchor="center", yanchor="middle", showarrow=False, textangle=-90, font=title_font),
]
fig.update_layout(annotations=annotations)

fig.write_html("out.html", config={"displayModeBar": False},
               post_script="document.body.style.margin='0';document.body.style.overflow='hidden';")
